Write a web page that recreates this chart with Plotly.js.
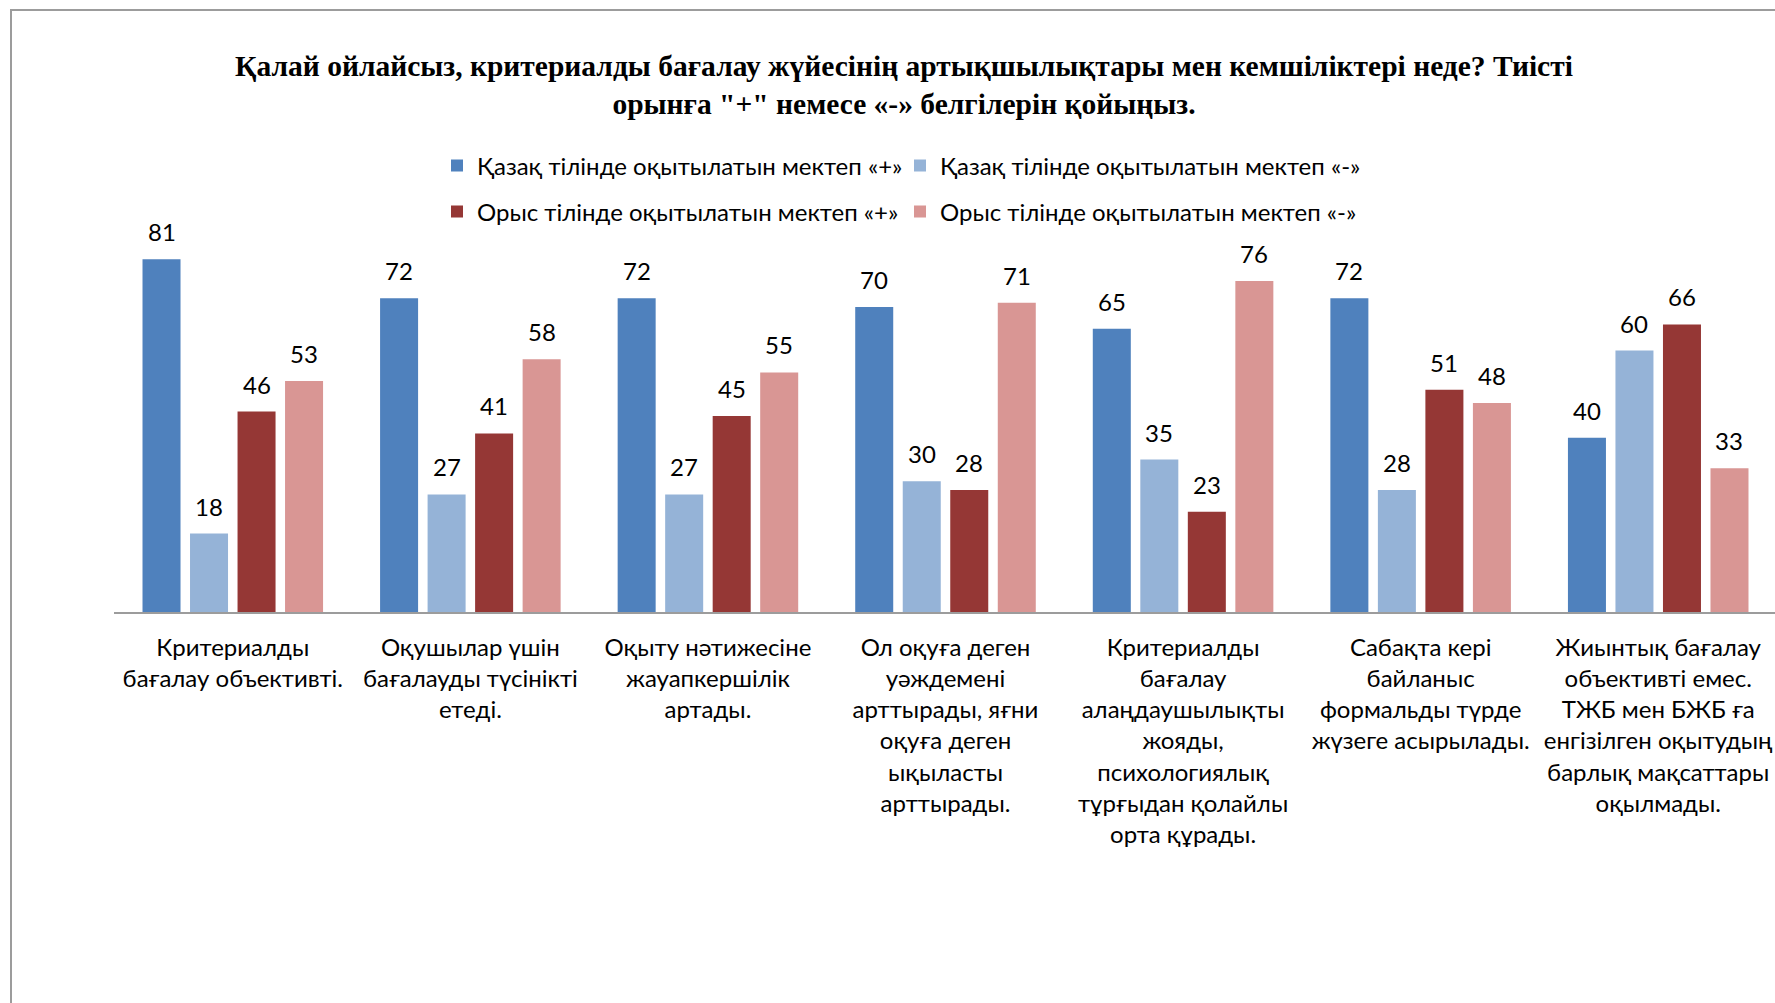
<!DOCTYPE html>
<html><head><meta charset="utf-8">
<script src="https://cdn.plot.ly/plotly-3.0.1.min.js"></script>
<style>
html,body{margin:0;padding:0;background:#fff;overflow:hidden;width:1775px;height:1003px;}
#frame{position:absolute;left:10px;top:9px;border-top:2px solid #9c9c9c;border-left:2px solid #9c9c9c;width:1780px;height:1000px;}
#chart{width:1765px;height:992px;}
</style></head><body><div id="frame"><div id="chart"></div></div>
<script>
const categories = [
  "Критериалды<br>бағалау объективті.",
  "Оқушылар үшін<br>бағалауды түсінікті<br>етеді.",
  "Оқыту нәтижесіне<br>жауапкершілік<br>артады.",
  "Ол оқуға деген<br>уәждемені<br>арттырады, яғни<br>оқуға деген<br>ықыласты<br>арттырады.",
  "Критериалды<br>бағалау<br>алаңдаушылықты<br>жояды,<br>психологиялық<br>тұрғыдан қолайлы<br>орта құрады.",
  "Сабақта кері<br>байланыс<br>формальды түрде<br>жүзеге асырылады.",
  "Жиынтық бағалау<br>объективті емес.<br>ТЖБ мен БЖБ ға<br>енгізілген оқытудың<br>барлық мақсаттары<br>оқылмады."
];
const seriesNames = [
  "Қазақ тілінде оқытылатын мектеп «+»",
  "Қазақ тілінде оқытылатын мектеп «-»",
  "Орыс тілінде оқытылатын мектеп «+»",
  "Орыс тілінде оқытылатын мектеп «-»"
];
const kazPlus  = [81, 72, 72, 70, 65, 72, 40];
const kazMinus = [18, 27, 27, 30, 35, 28, 60];
const rusPlus  = [46, 41, 45, 28, 23, 51, 66];
const rusMinus = [53, 58, 55, 71, 76, 48, 33];
const seriesValues = [kazPlus, kazMinus, rusPlus, rusMinus];
const seriesColors = ["#4F81BD", "#95B3D7", "#953735", "#D99694"];
const titleText = 'Қалай ойлайсыз, критериалды бағалау жүйесінің артықшылықтары мен кемшіліктері неде? Тиісті<br>орынға "+" немесе «-» белгілерін қойыңыз.';

const W = 1765, H = 992;
const bargap = 0.2, bargroupgap = 0.2;
const legendIds = ["legend", "legend2", "legend3", "legend4"];

const traces = seriesValues.map((vals, k) => ({
  type: "bar",
  name: seriesNames[k],
  x: categories,
  y: vals,
  marker: {color: seriesColors[k], line: {width: 0}},
  legend: legendIds[k],
  hoverinfo: "skip",
  cliponaxis: false
}));

const slot = (1 - bargap) / seriesValues.length;
const annotations = [];
seriesValues.forEach((vals, k) => {
  vals.forEach((v, i) => {
    annotations.push({
      x: i + (k - (seriesValues.length - 1) / 2) * slot,
      y: v, xref: "x", yref: "y",
      text: String(v), showarrow: false,
      yanchor: "bottom", yshift: 11,
      font: {family: "Lato, sans-serif", size: 24, color: "#000"}
    });
  });
});

const legendFont = {family: "Lato, sans-serif", size: 24, color: "#000"};
const legendPos = [[425, 155], [888, 155], [425, 201], [888, 201]];
const layout = {
  width: W, height: H,
  paper_bgcolor: "#fff", plot_bgcolor: "#fff",
  margin: {l: 102, r: 0, t: 222, b: 391, autoexpand: false},
  barmode: "group", bargap: bargap, bargroupgap: bargroupgap,
  title: {
    text: "<b>" + titleText + "</b>",
    font: {family: "Liberation Serif, serif", size: 29.5, color: "#000"},
    xref: "container", x: 892 / W, xanchor: "center",
    yref: "container", y: 1 - 65 / H, yanchor: "top"
  },
  xaxis: {
    type: "category", showline: true, linecolor: "#9c9c9c", linewidth: 2,
    ticks: "", showgrid: false, zeroline: false,
    tickfont: {family: "Lato, sans-serif", size: 24, color: "#000"},
    ticklabelstandoff: 13, fixedrange: true
  },
  yaxis: {range: [0, 87], visible: false, fixedrange: true},
  annotations: annotations,
  showlegend: true
};
legendIds.forEach((id, k) => {
  layout[id] = {
    xref: "container", yref: "container",
    x: legendPos[k][0] / W, xanchor: "left",
    y: 1 - legendPos[k][1] / H, yanchor: "middle",
    orientation: "h", bgcolor: "rgba(0,0,0,0)", borderwidth: 0,
    font: legendFont, itemwidth: 30
  };
});

Plotly.newPlot("chart", traces, layout, {displayModeBar: false, staticPlot: true});
</script></body></html>
